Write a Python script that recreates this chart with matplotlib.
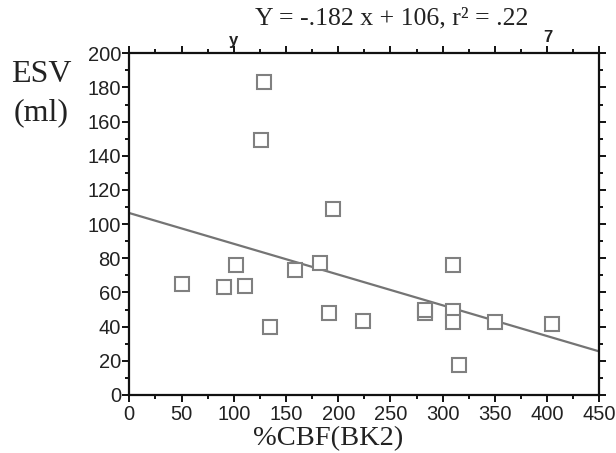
import matplotlib
matplotlib.use("Agg")
import matplotlib.pyplot as plt
from matplotlib.ticker import MultipleLocator

# Data
cbf = [50, 91, 102, 111, 135, 159, 183, 191, 224, 283, 283, 310, 310, 310, 316, 350, 405, 129, 126, 195]
esv = [65, 63, 76, 64, 40, 73, 77, 48, 43.5, 48, 50, 76, 49, 42.5, 17.5, 42.5, 41.5, 183, 149, 109]

# Regression line end points
fit_x = [0, 450]
fit_y = [106.5, 25.5]

title = "Y = -.182 x + 106, r² = .22"
xlabel = "%CBF(BK2)"
ylabel_lines = ["ESV", "(ml)"]

W, H = 616, 453
fig = plt.figure(figsize=(W / 100, H / 100), dpi=100)
left, right, top, bottom = 129.3, 599.3, 53.3, 395
ax = fig.add_axes([left / W, 1 - bottom / H, (right - left) / W, (bottom - top) / H])

ax.plot(fit_x, fit_y, color="#747474", lw=1.6, zorder=2)
ax.plot(cbf, esv, ls="none", marker="s", ms=9.5, mfc="white", mec="#808080", mew=1.5, zorder=3)

ax.set_xlim(0, 450)
ax.set_ylim(0, 200)
ax.xaxis.set_major_locator(MultipleLocator(50))
ax.xaxis.set_minor_locator(MultipleLocator(25))
ax.yaxis.set_major_locator(MultipleLocator(20))
ax.yaxis.set_minor_locator(MultipleLocator(10))

for s in ax.spines.values():
    s.set_linewidth(1.6)
    s.set_color("#111111")

ax.tick_params(which="both", direction="out", top=True, right=True, width=1.4, color="#111111")
ax.tick_params(which="major", length=5)
ax.tick_params(which="minor", length=3)
ax.tick_params(axis="both", labelsize=14.5, labelcolor="#222222")
ax.tick_params(axis="x", pad=2.5)
ax.tick_params(axis="y", which="both", right=True, labelright=False, pad=1)
for lab in ax.get_xticklabels() + ax.get_yticklabels():
    lab.set_fontfamily("Liberation Sans")

serif = "Liberation Serif"
fig.text(392 / W, 1 - 18 / H, title, ha="center", va="center", fontsize=18.5, family=serif, color="#222222")
fig.text(328 / W, 2 / H, xlabel, ha="center", va="bottom", fontsize=20.5, family=serif, color="#222222")
fig.text(41 / W, 1 - 75 / H, ylabel_lines[0], ha="center", va="center", fontsize=23, family=serif, color="#222222")
fig.text(41 / W, 1 - 113 / H, ylabel_lines[1], ha="center", va="center", fontsize=23, family=serif, color="#222222")
fig.text(233 / W, 1 - 41 / H, "y", ha="center", va="center", fontsize=12, weight="bold", family="Liberation Sans", color="#222222")
fig.text(548 / W, 1 - 38 / H, "7", ha="center", va="center", fontsize=12, weight="bold", family="Liberation Sans", color="#222222")

fig.savefig("out.png", dpi=100)
